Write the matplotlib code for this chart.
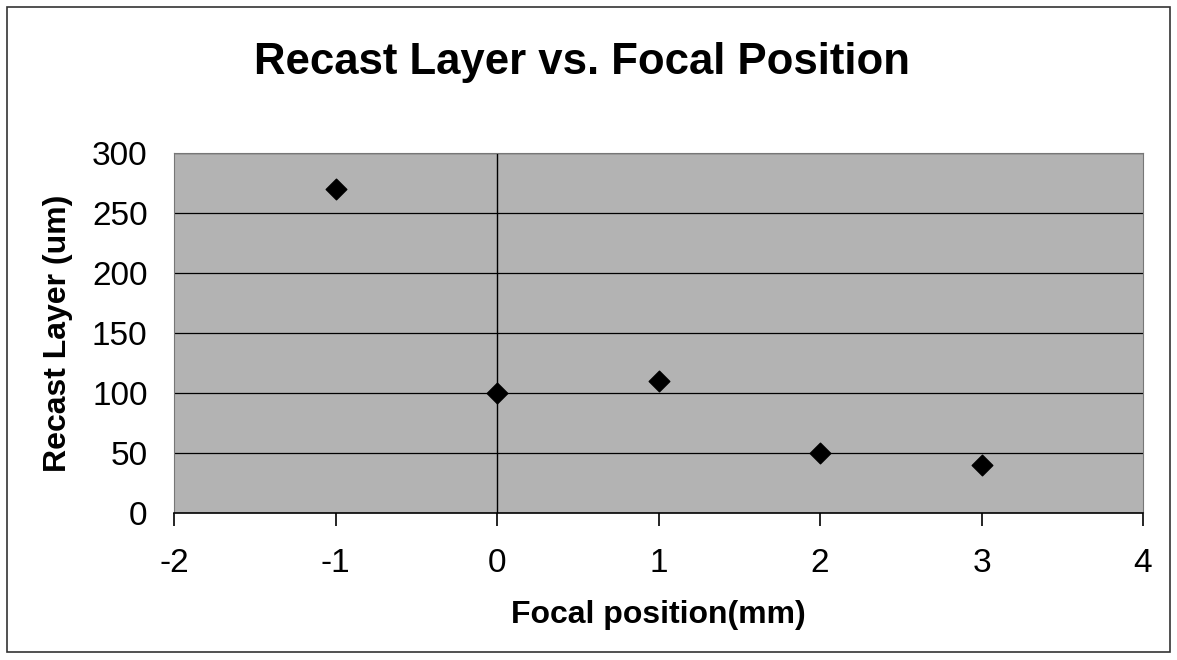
import matplotlib
matplotlib.use("Agg")
import matplotlib.pyplot as plt
from matplotlib.patches import Rectangle

# data
focal_mm = [-1, 0, 1, 2, 3]
recast_um = [270, 100, 110, 50, 40]
x_ticks = [-2, -1, 0, 1, 2, 3, 4]
y_ticks = [0, 50, 100, 150, 200, 250, 300]

plt.rcParams['font.family'] = ['Liberation Sans', 'DejaVu Sans']

fig = plt.figure(figsize=(11.77, 6.6), dpi=100)
fig.patch.set_facecolor('white')

# outer chart border
fig.add_artist(Rectangle((7 / 1177, 8 / 660), 1163 / 1177, 645 / 660,
                         transform=fig.transFigure, fill=False,
                         edgecolor='#333333', linewidth=1.2))

ax = fig.add_axes([174 / 1177, 147 / 660, 969 / 1177, 360 / 660])
ax.set_facecolor('#b3b3b3')
ax.set_xlim(-2, 4)
ax.set_ylim(0, 300)

# horizontal gridlines
for yv in y_ticks[1:]:
    ax.axhline(yv, color='black', linewidth=0.9, zorder=1)
# vertical axis crossing at x=0
ax.axvline(0, color='black', linewidth=1.0, zorder=1)

ax.scatter(focal_mm, recast_um, marker='D', s=110, color='black', zorder=3)

for side in ['left', 'top', 'right']:
    ax.spines[side].set_color('#777777')
    ax.spines[side].set_linewidth(0.8)
ax.spines['bottom'].set_color('black')
ax.spines['bottom'].set_linewidth(1.2)

ax.set_xticks(x_ticks)
ax.set_yticks(y_ticks)
ax.set_xticklabels([str(v) for v in x_ticks])
ax.set_yticklabels([str(v) for v in y_ticks])
ax.tick_params(axis='x', direction='out', length=9, width=1.2, pad=16,
               labelsize=24, colors='black')
ax.tick_params(axis='y', length=0, pad=19, labelsize=24)

ax.set_xlabel('Focal position(mm)', fontsize=23, fontweight='bold', labelpad=15)
ax.set_ylabel('Recast Layer (um)', fontsize=23, fontweight='bold', labelpad=14)

fig.text(0.4946, 0.905, 'Recast Layer vs. Focal Position', ha='center',
         va='center', fontsize=31.5, fontweight='bold')

fig.savefig('out.png', dpi=100)
